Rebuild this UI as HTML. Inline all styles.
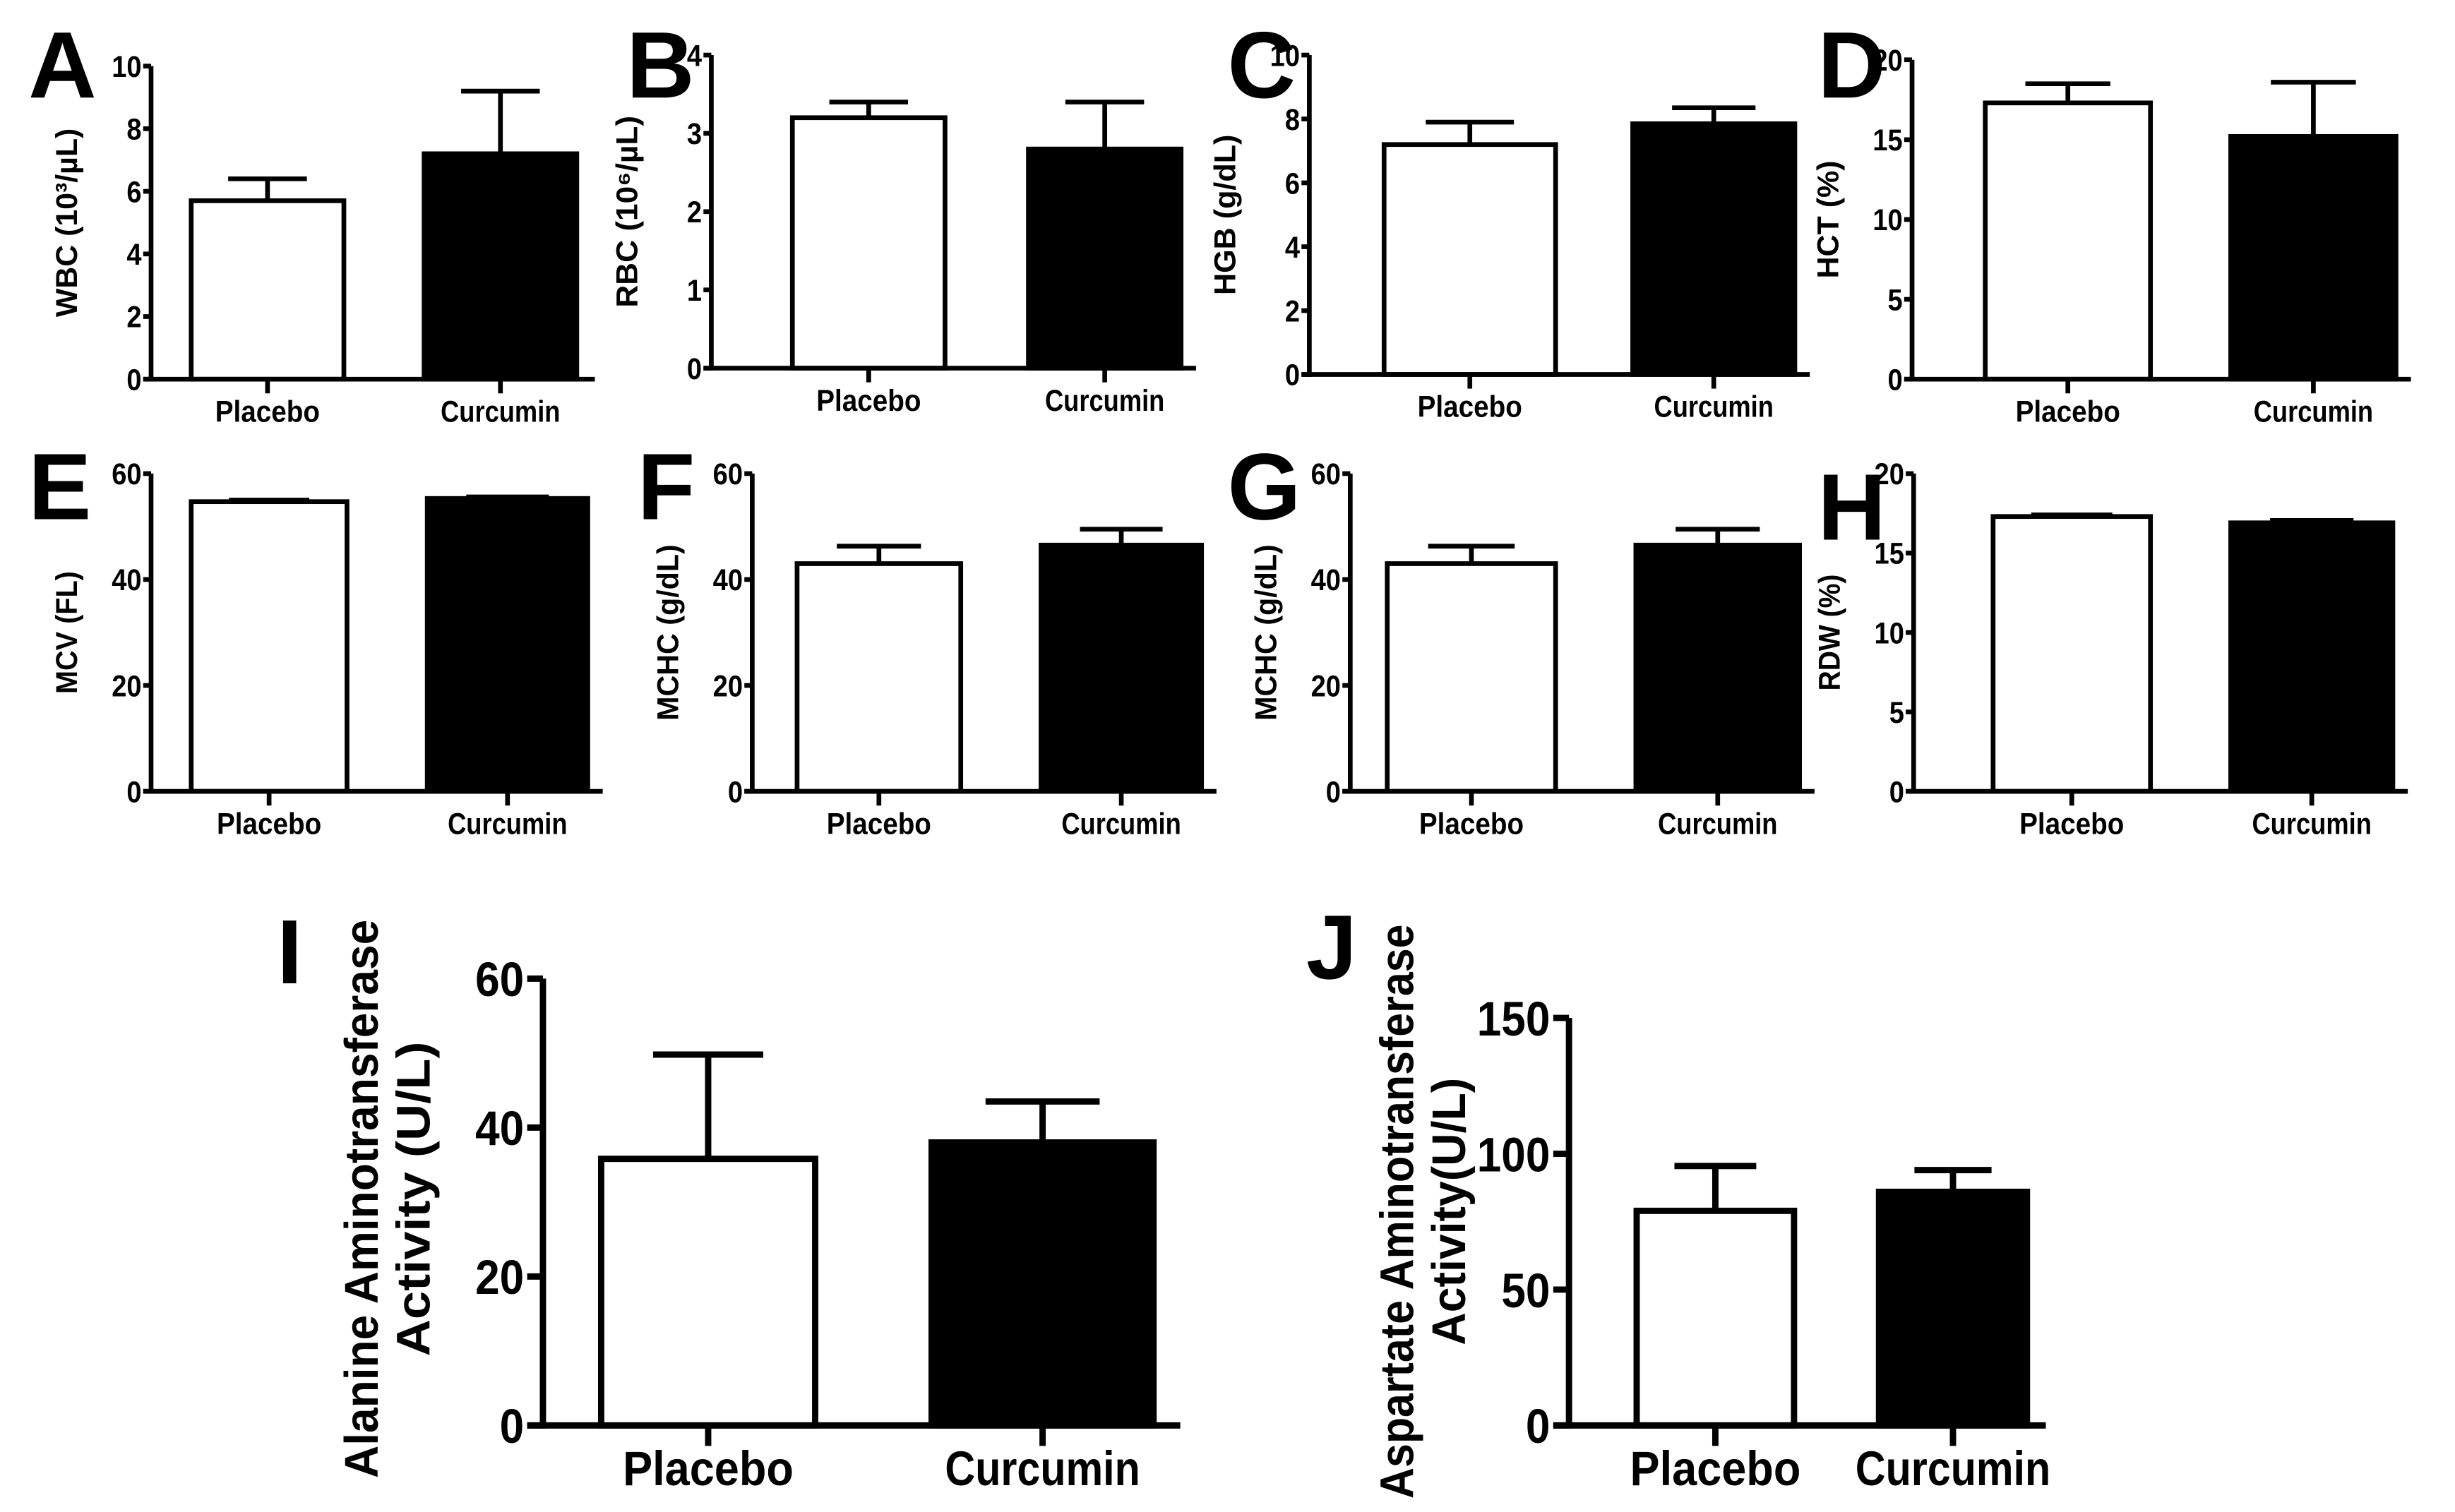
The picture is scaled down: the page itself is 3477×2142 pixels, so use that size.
<!DOCTYPE html>
<html><head><meta charset="utf-8"><style>
html,body{margin:0;padding:0;background:#fff;}
svg{display:block;}
text{font-family:"Liberation Sans",sans-serif;font-weight:bold;fill:#000;}
</style></head><body>
<svg id="fig" width="3477" height="2142" viewBox="0 0 1560 961" xmlns="http://www.w3.org/2000/svg"></svg>
<script>
const categories = ["Placebo","Curcumin"];
const wbcMean=[5.7,7.2], wbcErr=[0.7,2.0];
const rbcMean=[3.2,2.8], rbcErr=[0.2,0.6];
const hgbMean=[7.2,7.85], hgbErr=[0.7,0.5];
const hctMean=[17.3,15.2], hctErr=[1.2,3.4];
const mcvMean=[54.7,55.3], mcvErr=[0.3,0.3];
const mchcFMean=[43,46.5], mchcFErr=[3.3,3.0];
const mchcGMean=[43,46.5], mchcGErr=[3.3,3.0];
const rdwMean=[17.3,16.9], rdwErr=[0.1,0.15];
const altMean=[35.8,38], altErr=[14,5.5];
const astMean=[79,86], astErr=[16.5,8];
const ticks10=[0,2,4,6,8,10], ticks4=[0,1,2,3,4], ticks20=[0,5,10,15,20], ticks60=[0,20,40,60], ticks150=[0,50,100,150];

const panels=[
 {id:"a",letter:"A",title:["WBC (10³/µL)"],tl:[120],mean:wbcMean,err:wbcErr,ticks:ticks10,ax:96,top:42,zero:241,bars:[[120,220],[268,368]],xr:378,lx:18,ly:62,small:true},
 {id:"b",letter:"B",title:["RBC (10⁶/µL)"],tl:[122],mean:rbcMean,err:rbcErr,ticks:ticks4,ax:452,top:35,zero:234,bars:[[502,602],[652,752]],xr:760,lx:398,ly:62,small:true},
 {id:"c",letter:"C",title:["HGB (g/dL)"],tl:[102],mean:hgbMean,err:hgbErr,ticks:ticks10,ax:832,top:35,zero:238,bars:[[878,990],[1036,1142]],xr:1150,lx:780,ly:62,small:true},
 {id:"d",letter:"D",title:["HCT (%)"],tl:[75],mean:hctMean,err:hctErr,ticks:ticks20,ax:1215,top:38,zero:241,bars:[[1260,1368],[1416,1524]],xr:1532,lx:1155,ly:62,small:true},
 {id:"e",letter:"E",title:["MCV (FL)"],tl:[78],mean:mcvMean,err:mcvErr,ticks:ticks60,ax:96,top:301,zero:503,bars:[[120,222],[270,375]],xr:383,lx:18,ly:330,small:true},
 {id:"f",letter:"F",title:["MCHC (g/dL)"],tl:[112],mean:mchcFMean,err:mchcFErr,ticks:ticks60,ax:478,top:301,zero:503,bars:[[505,612],[660,765]],xr:773,lx:405,ly:330,small:true},
 {id:"g",letter:"G",title:["MCHC (g/dL)"],tl:[112],mean:mchcGMean,err:mchcGErr,ticks:ticks60,ax:858,top:301,zero:503,bars:[[880,990],[1038,1145]],xr:1153,lx:780,ly:330,small:true},
 {id:"h",letter:"H",title:["RDW (%)"],tl:[74],mean:rdwMean,err:rdwErr,ticks:ticks20,ax:1216,top:301,zero:503,bars:[[1265,1368],[1416,1522]],xr:1530,lx:1155,ly:343,small:true},
 {id:"i",letter:"I",title:["Alanine Aminotransferase","Activity (U/L)"],tl:[355,200],mean:altMean,err:altErr,ticks:ticks60,ax:345,top:622,zero:906,bars:[[380,520],[590,735]],xr:750,lx:176,ly:625,small:false},
 {id:"j",letter:"J",title:["Aspartate Aminotransferase","Activity(U/L)"],tl:[365,170],mean:astMean,err:astErr,ticks:ticks150,ax:997,top:647,zero:906,bars:[[1038,1142],[1192,1290]],xr:1300,lx:830,ly:622,small:false}
];
const NS="http://www.w3.org/2000/svg";
const svg=document.getElementById('fig');
function mk(tag,attrs,parent){const e=document.createElementNS(NS,tag);for(const k in attrs)e.setAttribute(k,attrs[k]);parent.appendChild(e);return e;}
panels.forEach(p=>{
  const g=mk('g',{},svg);
  
  
  const max=p.ticks[p.ticks.length-1];
  const y=v=>p.zero-(v/max)*(p.zero-p.top);
  const sw=p.small?3:4;
  const tfs=p.small?19:31, cfs=p.small?19:31, yfs=p.small?19:30, lfs=p.small?60:58;
  const L=mk('text',{x:p.lx,y:p.ly,'font-size':lfs},g);L.textContent=p.letter;
  
  
  p.mean.forEach((m,i)=>{
    const [x0,x1]=p.bars[i];const cx=(x0+x1)/2;
    const top=y(m+p.err[i]);
    const eb=mk('path',{d:`M${cx} ${y(m)} V${top} M${cx-(x1-x0)/4} ${top} H${cx+(x1-x0)/4}`,stroke:'#000','stroke-width':sw,fill:'none'},g);
    
    
    const r=mk('rect',{x:x0+sw/2,y:y(m),width:x1-x0-sw,height:p.zero-y(m),fill:i?'#000':'#fff',stroke:'#000','stroke-width':sw},g);
    
    
    const tk=mk('line',{x1:cx,x2:cx,y1:p.zero,y2:p.zero+(p.small?9:13),stroke:'#000','stroke-width':sw},g);
    
    
    const cw=categories[i].length*cfs*0.5;
    const c=mk('text',{x:cx,y:p.zero+(p.small?27:38),'font-size':cfs,'text-anchor':'middle',textLength:cw,lengthAdjust:'spacingAndGlyphs'},g);c.textContent=categories[i];
    
    
  });
  const ya=mk('line',{x1:p.ax,x2:p.ax,y1:p.top,y2:p.zero+sw/2,stroke:'#000','stroke-width':sw},g);
  
  
  const xa=mk('line',{x1:p.ax-(p.small?5:10),x2:p.xr,y1:p.zero,y2:p.zero,stroke:'#000','stroke-width':sw},g);
  
  
  p.ticks.forEach(t=>{
    const l=mk('line',{x1:p.ax-(p.small?5:10),x2:p.ax,y1:y(t),y2:y(t),stroke:'#000','stroke-width':sw},g);
    
    
    const tw=String(t).length*tfs*0.5;
    const tx=mk('text',{x:p.ax-(p.small?6:12),y:y(t)+tfs*0.36,'font-size':tfs,'text-anchor':'end',textLength:tw,lengthAdjust:'spacingAndGlyphs'},g);tx.textContent=t;
    
    
  });
  const mid=(p.top+p.zero)/2;
  p.title.forEach((s,k)=>{
    const n=p.title.length;
    const xx=p.small?p.ax-47:(p.ax-(p.id==='i'?72:66)-(n-1-k)*33);
    const yy=p.small?mid:(p.id==='i'?762:770);
    const t=mk('text',{x:xx,y:yy,'font-size':yfs,'text-anchor':'middle',textLength:p.tl[k],lengthAdjust:'spacingAndGlyphs',transform:`rotate(-90 ${xx} ${yy})`},g);t.textContent=s;
    
    
  });
});
</script>
</body></html>
